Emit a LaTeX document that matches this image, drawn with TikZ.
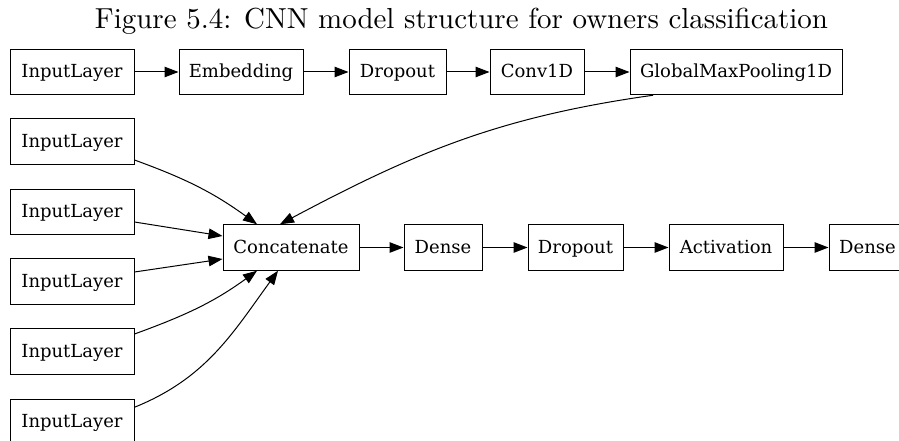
\documentclass[tikz,border=0pt]{standalone}
\usepackage{fontspec}
\usetikzlibrary{arrows.meta}
\newfontfamily\layerfont{DejaVu Serif}
\tikzset{
  x=1pt, y=1pt,
  layer/.style={draw, line width=1pt, minimum height=45.5pt, inner sep=0pt,
                text height=14pt, text depth=3pt,
                font=\layerfont\fontsize{18}{21}\selectfont},
  flow/.style={line width=1pt, -{Triangle[length=14pt,width=10.5pt]}},
}
\begin{document}
\begin{tikzpicture}
\clip (0,0) rectangle (899,-441);
\useasboundingbox (0,0) rectangle (899,-441);

% caption, set at 10pt and enlarged
\node[anchor=base, inner sep=0pt] (title) at (461.5,-29)
  {\resizebox{733pt}{!}{\fontsize{10}{12}\selectfont Figure 5.4: CNN model structure for owners classification}};

% text branch
\node[layer, minimum width=124pt] (in0)  at (72,-72)    {InputLayer};
\node[layer, minimum width=124pt] (emb)  at (241,-72)   {Embedding};
\node[layer, minimum width=97pt]  (dr1)  at (397.5,-72) {Dropout};
\node[layer, minimum width=94pt]  (conv) at (537,-72)   {Conv1D};
\node[layer, minimum width=212pt] (gmp)  at (736,-72)   {GlobalMaxPooling1D};

% extra inputs
\node[layer, minimum width=124pt] (inA) at (72,-141.5) {InputLayer};
\node[layer, minimum width=124pt] (inB) at (72,-212)   {InputLayer};
\node[layer, minimum width=124pt] (inC) at (72,-281.5) {InputLayer};
\node[layer, minimum width=124pt] (inD) at (72,-351.5) {InputLayer};
\node[layer, minimum width=124pt] (inE) at (72,-421.75) {InputLayer};

% merged head
\node[layer, minimum width=136pt] (cat) at (291,-247.5)   {Concatenate};
\node[layer, minimum width=78pt]  (de1) at (443,-247.5)   {Dense};
\node[layer, minimum width=95pt]  (dr2) at (575.5,-247.5) {Dropout};
\node[layer, minimum width=114pt] (act) at (726,-247.5)   {Activation};
\node[layer, minimum width=77pt]  (de2) at (867.5,-247.5) {Dense};

% straight connectors
\draw[flow] (in0) -- (emb);
\draw[flow] (emb) -- (dr1);
\draw[flow] (dr1) -- (conv);
\draw[flow] (conv) -- (gmp);
\draw[flow] (cat) -- (de1);
\draw[flow] (de1) -- (dr2);
\draw[flow] (dr2) -- (act);
\draw[flow] (act) -- (de2);

% connectors into Concatenate
\draw[flow] ([yshift=-18.5pt]inA.east) to[out=-20, in=144] ([xshift=-34pt]cat.north);
\draw[flow] ([yshift=-10pt]inB.east) -- ([yshift=11.5pt]cat.west);
\draw[flow] ([yshift=9.5pt]inC.east) -- ([yshift=-11.5pt]cat.west);
\draw[flow] ([yshift=17.5pt]inD.east) to[out=20, in=-144] ([xshift=-34pt]cat.south);
\draw[flow] ([yshift=14.5pt]inE.east) to[out=22, in=-126] ([xshift=-13pt]cat.south);
\draw[flow] ([xshift=-83pt]gmp.south) to[out=188, in=28] ([xshift=-11pt]cat.north);
\end{tikzpicture}
\end{document}
